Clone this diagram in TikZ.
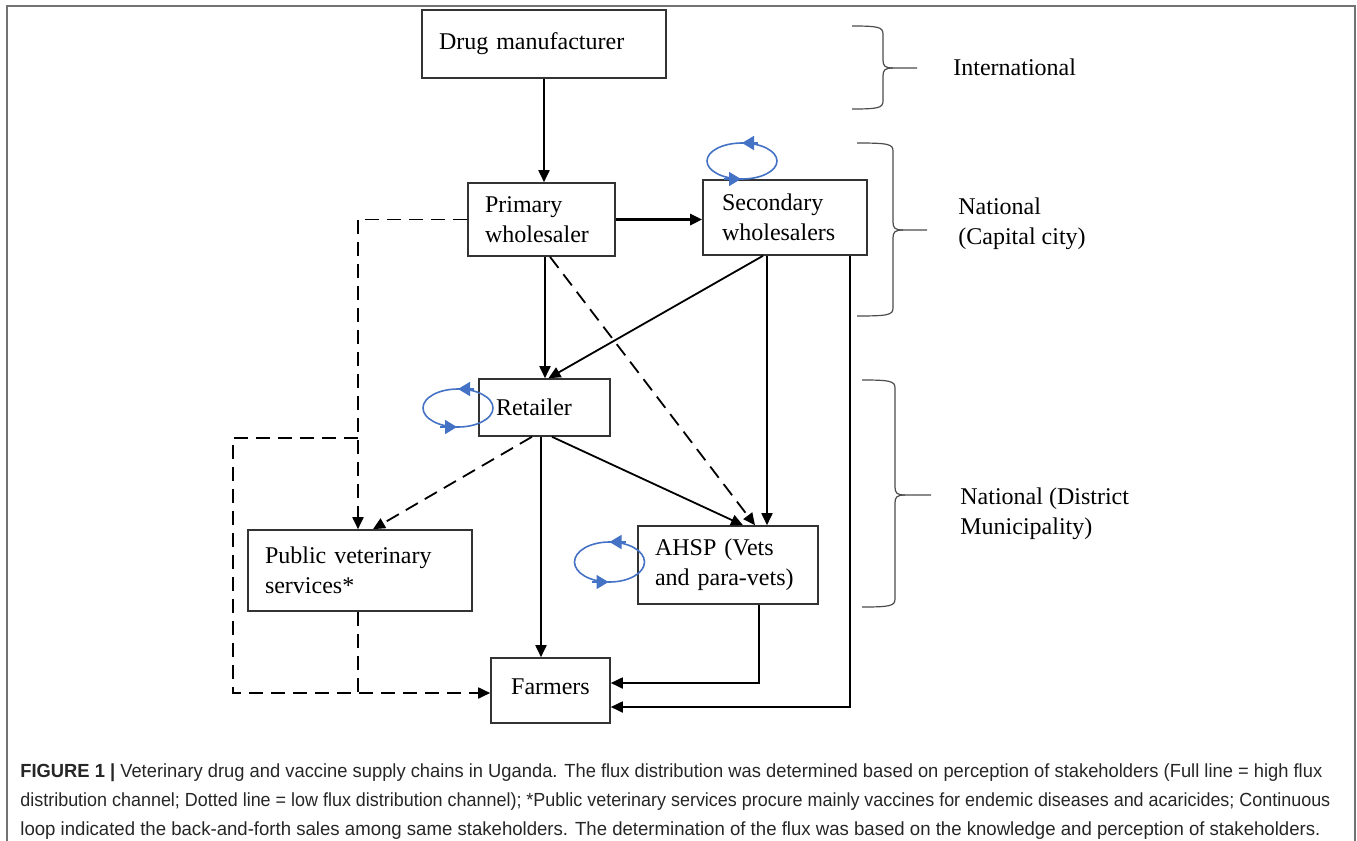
\documentclass[tikz,border=0pt]{standalone}
\usepackage{fontspec}
\setmainfont{Liberation Serif}
\newfontfamily\captionfont{Liberation Sans}
\usepackage{graphicx}
\usepackage{xcolor}
\usetikzlibrary{arrows.meta, positioning, calc}
\definecolor{loopblue}{RGB}{68,114,196}

\begin{document}
\begin{tikzpicture}[x=0.5pt, y=-0.5pt,
        box/.style={rectangle, draw=black!80, line width=0.8pt, align=left, inner xsep=8.5pt, inner ysep=0pt, font=\fontsize{12}{15}\selectfont},
        flow/.style={draw=black, line width=0.9pt, -{Triangle[length=6pt, width=5.5pt]}},
        lowflow/.style={flow, dash pattern=on 7pt off 4pt},
        swirl/.style={draw=loopblue, line width=0.8pt},
        swirltip/.style={swirl, -{Triangle[length=6pt, width=7pt]}},
        level/.style={align=left, inner sep=0pt, anchor=west, font=\fontsize{12}{15}\selectfont},
        bracket/.style={draw=black!70, line width=0.6pt},
        rim/.style={draw=black!55, line width=1pt},
        caption/.style={anchor=west, inner sep=0pt, text=black!85, font=\captionfont\fontsize{9.5}{11}\selectfont}
    ]
        \useasboundingbox (0,0) rectangle (1357,841);
        \draw[rim] (7,860) -- (7,6) -- (1355,6) -- (1355,860);

        % stakeholders
        \node[box, text width=105pt, minimum height=34pt] (maker) at (544,44) {Drug manufacturer};
        \node[box, text width=56.5pt, minimum height=36.5pt] (primary) at (541.5,219.5) {Primary\\wholesaler};
        \node[box, text width=63pt, inner xsep=9.5pt, minimum height=37.5pt] (secondary) at (785,217.5) {Secondary\\wholesalers};
        \node[box, text width=48.5pt, minimum height=28.5pt] (retailer) at (544.5,407.5) {Retailer};
        \node[box, text width=95pt, minimum height=40.5pt] (public) at (360,570.5) {Public veterinary\\services*};
        \node[box, text width=73pt, minimum height=39pt] (ahsp) at (728,565) {AHSP (Vets\\and para-vets)};
        \node[box, text width=42.5pt, align=center, minimum height=32.5pt] (farmers) at (550.5,690.5) {\raisebox{3.5pt}{Farmers}};

        % high flux
        \draw[flow] (maker.south) -- (maker.south |- primary.north);
        \draw[flow, line width=1.3pt] (primary.east) -- (primary.east -| secondary.west);
        \draw[flow] ($(primary.south)+(3.5,0)$) -- ($(retailer.north)+(0.5,0)$);
        \draw[flow] ($(secondary.south)+(-22,0)$) -- ($(retailer.north)+(4,0)$);
        \draw[flow] ($(secondary.south)+(-18,0)$) -- ($(ahsp.north)+(39,0)$);
        \draw[flow] ($(retailer.south)+(7.5,0)$) -- ($(ahsp.north)+(15,0)$);
        \draw[flow] ($(retailer.south)+(-3.5,0)$) -- ($(farmers.north)+(-9.5,0)$);
        \draw[flow] ($(secondary.south)+(65,0)$) |- ($(farmers.east)+(0,16.5)$);
        \draw[flow] ($(ahsp.south)+(31,0)$) |- ($(farmers.east)+(0,-7.5)$);

        % low flux
        \coordinate (split) at (358,438);
        \coordinate (corner) at (233,693);
        \coordinate (drop) at ($(public.south)+(-2,0)$);
        \draw[lowflow] ($(primary.south)+(8.5,0)$) -- ($(ahsp.north)+(27,0)$);
        \draw[lowflow] ($(retailer.south)+(-12.5,0)$) -- ($(public.north)+(13,0)$);
        \draw[lowflow] (primary.west) -| ($(public.north)+(-2,0)$);
        \draw[lowflow] (split) -| (corner) -- (corner -| farmers.west);
        \draw[lowflow, -] (drop) -- (drop |- corner);

        % back-and-forth sales
        \foreach \cx/\cy/\ry in {742/161/18, 458/408/19, 609.5/562/20} {
            \draw[swirl] (\cx,\cy) ellipse [x radius=17.5pt, y radius=\ry*0.5pt];
            \draw[swirltip] (\cx+16,\cy-\ry) -- (\cx,\cy-\ry);
            \draw[swirltip] (\cx-18,\cy+\ry) -- (\cx-1,\cy+\ry);
        }

        % levels
        \foreach \xa/\xv/\xt/\ya/\ym/\yb in {852/883/917/26/68/109, 857/893/927/143/230/316, 862/895/931/380/495/607} {
            \draw[bracket] (\xa,\ya) .. controls (\xv-5,\ya) and (\xv,\ya+1) .. (\xv,\ya+8) -- (\xv,\ym-8)
                .. controls (\xv,\ym-2) and (\xv+2,\ym) .. (\xv+10,\ym) -- (\xt,\ym);
            \draw[bracket] (\xv+10,\ym) .. controls (\xv+2,\ym) and (\xv,\ym+2) .. (\xv,\ym+8) -- (\xv,\yb-8)
                .. controls (\xv,\yb-1) and (\xv-5,\yb) .. (\xa,\yb);
        }
        \node[level] (intl) at (953,67) {International};
        \node[level] (capital) at (958,224) {National\\(Capital city)};
        \node[level] (district) at (960,514) {National (District\\Municipality)};

        % caption
        \node[caption] (cap1) at (20,773) {\resizebox{651pt}{\height}{\textbf{FIGURE 1 |} Veterinary drug and vaccine supply chains in Uganda. The flux distribution was determined based on perception of stakeholders (Full line = high flux}};
        \node[caption] (cap2) at (20,802) {\resizebox{655pt}{\height}{distribution channel; Dotted line = low flux distribution channel); *Public veterinary services procure mainly vaccines for endemic diseases and acaricides; Continuous}};
        \node[caption] (cap3) at (20,831) {\resizebox{650pt}{\height}{loop indicated the back-and-forth sales among same stakeholders. The determination of the flux was based on the knowledge and perception of stakeholders.}};
    \end{tikzpicture}
\end{document}
